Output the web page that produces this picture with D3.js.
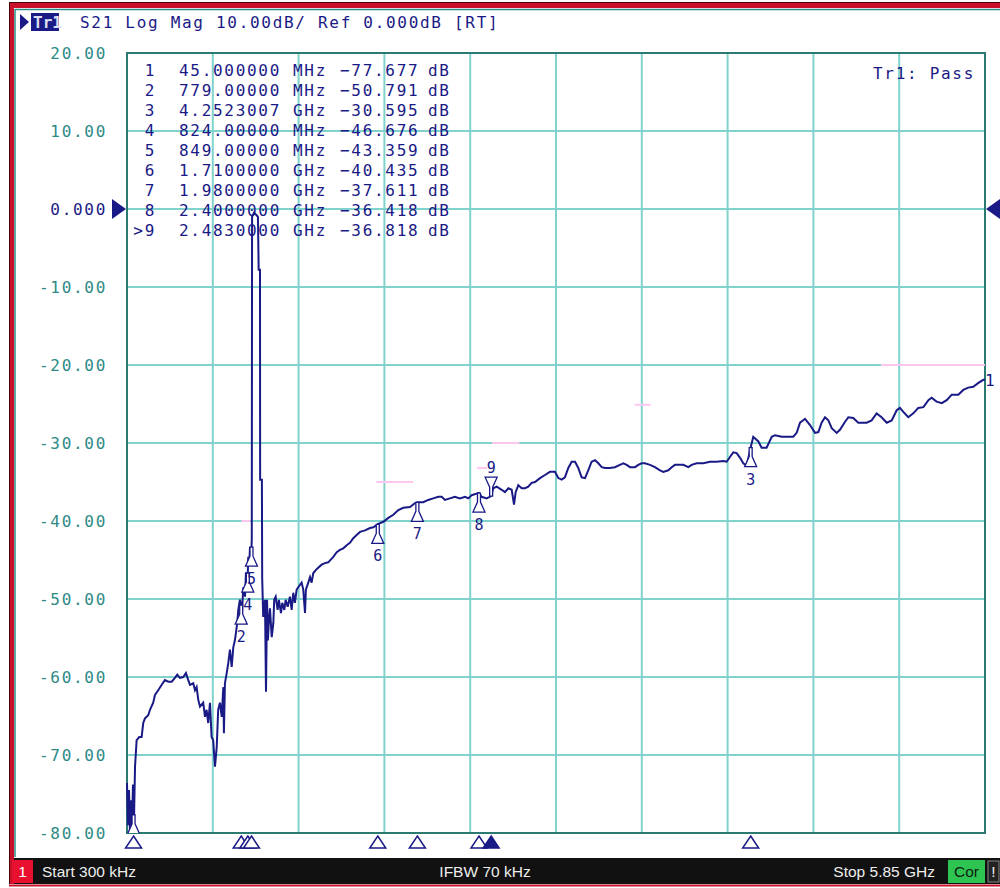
<!DOCTYPE html>
<html>
<head>
<meta charset="utf-8">
<script src="https://cdn.jsdelivr.net/npm/d3@7"></script>
<style>
  body { margin: 0; background: #fff; }
  .mono { font-family: "DejaVu Sans Mono", monospace; font-size: 16px; letter-spacing: 1.7px; }
  .sans { font-family: "Liberation Sans", Arial, sans-serif; font-size: 15.5px; }
</style>
</head>
<body>
<div id="chart"></div>
<script>
// balayage: 300 kHz -> 5.85 GHz (en MHz), echelle 10 dB/div
var startMHz = 0.3;
var stopMHz = 5850;
var yTicks = [20, 10, 0, -10, -20, -30, -40, -50, -60, -70, -80];
var yTickLabels = ["20.00", "10.00", "0.000", "-10.00", "-20.00", "-30.00", "-40.00", "-50.00", "-60.00", "-70.00", "-80.00"];

// trace S21 (MHz, dB)
var freqMHz = [0.3, 7, 14, 20, 27, 34, 41, 45, 48, 55, 66, 84, 100, 111, 123, 145, 157, 179, 191, 213,
  237, 259, 282, 305, 327, 343, 361, 384, 402, 418, 430, 452, 464, 475, 486, 498, 520, 532, 543, 554,
  566, 577, 588, 600, 612, 622, 634, 646, 657, 661, 668, 680, 691, 702, 714, 725, 736, 752, 759, 770,
  779, 784, 793, 805, 811, 824, 827, 834, 839, 845, 849, 851, 853, 866, 884, 893, 898, 907, 908, 920,
  922, 929, 941, 948, 955, 961, 968, 975, 987, 998, 1004, 1014, 1027, 1036, 1050, 1059, 1073, 1082, 1096, 1111,
  1123, 1134, 1145, 1157, 1168, 1191, 1202, 1214, 1220, 1236, 1248, 1259, 1270, 1287, 1304, 1327, 1350, 1372, 1407, 1430,
  1452, 1475, 1498, 1520, 1543, 1566, 1589, 1623, 1657, 1680, 1710, 1748, 1782, 1816, 1850, 1884, 1930, 1964, 1980, 2020,
  2054, 2088, 2123, 2146, 2168, 2202, 2236, 2270, 2305, 2327, 2350, 2400, 2418, 2452, 2483, 2497, 2521, 2555, 2577, 2600,
  2623, 2639, 2650, 2668, 2691, 2714, 2736, 2759, 2782, 2816, 2850, 2884, 2918, 2941, 2964, 2986, 3009, 3032, 3055, 3077,
  3100, 3123, 3145, 3168, 3191, 3214, 3237, 3259, 3293, 3327, 3361, 3384, 3407, 3430, 3464, 3486, 3509, 3532, 3566, 3600,
  3634, 3657, 3691, 3714, 3736, 3793, 3827, 3850, 3884, 3929, 3975, 4020, 4066, 4089, 4111, 4134, 4157, 4180, 4202, 4225,
  4252, 4270, 4305, 4327, 4361, 4396, 4418, 4464, 4543, 4566, 4589, 4623, 4657, 4691, 4714, 4736, 4759, 4782, 4805, 4839,
  4861, 4895, 4918, 4952, 4986, 5043, 5077, 5111, 5145, 5180, 5214, 5248, 5270, 5293, 5327, 5361, 5395, 5430, 5464, 5486,
  5520, 5555, 5589, 5623, 5668, 5702, 5736, 5770, 5805, 5839, 5850];
var magDb = [-73.6, -79.0, -74.5, -79.6, -75.8, -79.4, -73.8, -77.7, -78.3, -71.5, -68.1, -67.7, -67.7, -65.9, -65.3, -64.9, -64.2, -63.3, -62.3, -61.7,
  -61.0, -60.4, -60.6, -60.6, -60.1, -59.7, -60.1, -60.0, -59.5, -60.4, -61.0, -60.8, -61.7, -61.3, -62.9, -63.8, -63.3, -65.1, -64.2, -65.9,
  -63.3, -67.7, -68.1, -71.5, -69.0, -64.2, -63.3, -65.1, -61.3, -67.2, -60.8, -59.5, -58.2, -56.5, -58.7, -56.2, -55.3, -53.1, -51.4, -50.1,
  -50.8, -51.8, -48.5, -49.7, -46.7, -46.7, -44.6, -45.4, -43.3, -44.1, -43.4, -42.4, -1.0, -0.5, -0.8, -1.0, -7.8, -7.8, -34.7, -34.7,
  -47.3, -52.3, -50.1, -61.9, -50.1, -55.3, -52.7, -51.2, -54.9, -53.1, -50.1, -49.7, -51.4, -50.1, -51.8, -50.5, -51.4, -50.1, -51.0, -49.7,
  -51.4, -49.2, -50.5, -48.8, -48.5, -47.9, -48.8, -51.8, -48.8, -47.9, -47.2, -47.9, -46.7, -46.3, -46.0, -45.6, -45.4, -45.3, -44.6, -44.0,
  -43.7, -43.5, -43.1, -42.8, -42.2, -41.8, -41.4, -41.2, -40.9, -40.8, -40.4, -40.1, -39.6, -39.2, -38.6, -38.3, -38.2, -37.7, -37.6, -37.6,
  -37.3, -37.1, -36.9, -36.9, -37.3, -37.1, -36.9, -37.1, -36.9, -37.1, -36.7, -36.4, -36.9, -37.1, -36.8, -35.8, -35.6, -36.0, -36.3, -35.8,
  -36.0, -37.9, -36.3, -35.4, -35.8, -35.8, -35.6, -35.1, -35.0, -34.5, -34.1, -33.7, -33.7, -34.5, -34.7, -34.4, -33.2, -32.4, -32.4, -33.2,
  -34.4, -34.5, -33.5, -32.4, -32.2, -32.6, -33.1, -33.2, -33.2, -33.1, -32.8, -32.6, -32.8, -33.1, -33.1, -32.8, -32.6, -32.6, -32.8, -33.1,
  -33.5, -33.7, -33.5, -33.1, -32.8, -32.8, -33.1, -32.8, -32.6, -32.6, -32.4, -32.4, -32.3, -32.4, -31.8, -31.2, -31.3, -31.9, -32.6, -32.9,
  -30.6, -29.2, -29.8, -30.6, -30.6, -29.2, -29.0, -29.2, -29.2, -28.7, -27.4, -26.9, -27.7, -28.7, -28.6, -27.4, -26.7, -27.1, -28.1, -28.7,
  -28.3, -27.3, -26.7, -26.8, -27.4, -27.4, -27.1, -26.2, -26.7, -27.4, -27.1, -25.8, -25.5, -26.0, -26.7, -26.2, -25.5, -25.4, -24.5, -24.2,
  -24.7, -24.9, -24.5, -23.8, -23.8, -23.2, -22.9, -22.8, -22.3, -21.9, -21.9];

// marqueurs
var markerNum = ["1", "2", "3", "4", "5", "6", "7", "8", "9"];
var markerMHz = [45, 779, 4252.3007, 824, 849, 1710, 1980, 2400, 2483];
var markerDb = [-77.677, -50.791, -30.595, -46.676, -43.359, -40.435, -37.611, -36.418, -36.818];
var markerFreqText = ["45.000000", "779.00000", "4.2523007", "824.00000", "849.00000", "1.7100000", "1.9800000", "2.4000000", "2.4830000"];
var markerUnit = ["MHz", "MHz", "GHz", "MHz", "MHz", "GHz", "GHz", "GHz", "GHz"];
var activeMarker = 8; // index du marqueur 9

// segments de la ligne limite (MHz debut, MHz fin, dB)
var limitStart = [780, 1700, 2386, 2490, 3460, 5140];
var limitStop = [840, 1950, 2455, 2675, 3570, 5850];
var limitDb = [-40, -35, -33.2, -30, -25.1, -20];

var W = 1000, H = 888;
var navy = "#1a1a86";
var teal = "#2e8a85";

var svg = d3.select("#chart").append("svg")
  .attr("width", W)
  .attr("height", H);

svg.append("rect").attr("width", W).attr("height", H).attr("fill", "#fff");

// cadre rouge de la fenetre
svg.append("rect").attr("x", 9).attr("y", 2).attr("width", W - 9).attr("height", 6).attr("fill", "#c8102a");
svg.append("rect").attr("x", 9).attr("y", 2).attr("width", 5).attr("height", H - 2).attr("fill", "#c8102a");
svg.append("line").attr("x1", 9.5).attr("x2", 9.5).attr("y1", 2).attr("y2", H).attr("stroke", "#4a0008");
svg.append("line").attr("x1", 9).attr("x2", W).attr("y1", 2.5).attr("y2", 2.5).attr("stroke", "#4a0008");
svg.append("line").attr("x1", 15).attr("x2", 15).attr("y1", 9).attr("y2", 857).attr("stroke", teal).attr("stroke-width", 1.5);
svg.append("line").attr("x1", 15).attr("x2", W).attr("y1", 9.5).attr("y2", 9.5).attr("stroke", teal).attr("stroke-width", 1.5);

// echelles
var x = d3.scaleLinear().domain([startMHz, stopMHz]).range([127, 985]);
var y = d3.scaleLinear().domain([-80, 20]).range([833, 53]);

// grille
var xGrid = d3.range(1, 10).map(function(i) { return startMHz + i * (stopMHz - startMHz) / 10; });
svg.append("g").selectAll("line").data(xGrid).enter().append("line")
  .attr("x1", function(d) { return x(d); })
  .attr("x2", function(d) { return x(d); })
  .attr("y1", y(20)).attr("y2", y(-80))
  .attr("stroke", "#7fd3cc").attr("stroke-width", 2);
svg.append("g").selectAll("line").data(yTicks.slice(1, -1)).enter().append("line")
  .attr("x1", x(startMHz)).attr("x2", x(stopMHz))
  .attr("y1", function(d) { return y(d); })
  .attr("y2", function(d) { return y(d); })
  .attr("stroke", "#7fd3cc").attr("stroke-width", 2);

// bord de la zone du graphique
svg.append("rect")
  .attr("x", x(startMHz)).attr("y", y(20))
  .attr("width", x(stopMHz) - x(startMHz)).attr("height", y(-80) - y(20))
  .attr("fill", "none").attr("stroke", "#2a7a72").attr("stroke-width", 2);

// etiquettes de l'axe Y
svg.append("g").selectAll("text").data(yTicks).enter().append("text")
  .attr("class", "mono")
  .attr("x", 107)
  .attr("y", function(d) { return y(d); })
  .attr("dy", "0.36em")
  .attr("text-anchor", "end")
  .attr("fill", function(d) { return d === 0 ? navy : teal; })
  .text(function(d, i) { return yTickLabels[i]; });

// triangles de reference (0 dB)
svg.append("path")
  .attr("d", "M" + 112 + "," + (y(0) - 10) + "L" + 126 + "," + y(0) + "L" + 112 + "," + (y(0) + 10) + "Z")
  .attr("fill", navy);
svg.append("path")
  .attr("d", "M" + 1000 + "," + (y(0) - 10) + "L" + 986 + "," + y(0) + "L" + 1000 + "," + (y(0) + 10) + "Z")
  .attr("fill", navy);

// en-tete
svg.append("path").attr("d", "M20,14L29,22L20,30Z").attr("fill", navy);
svg.append("rect").attr("x", 31).attr("y", 13).attr("width", 28).attr("height", 18).attr("fill", navy);
svg.append("text").attr("class", "mono").attr("x", 33).attr("y", 28)
  .attr("fill", "#dde0f4").style("font-weight", "bold").style("letter-spacing", "0px").text("Tr1");
svg.append("text").attr("class", "mono").attr("x", 80).attr("y", 28)
  .attr("fill", navy).text("S21 Log Mag 10.00dB/ Ref 0.000dB [RT]");

svg.append("text").attr("class", "mono").attr("x", 975).attr("y", 79)
  .attr("text-anchor", "end").attr("fill", navy).text("Tr1: Pass");

// tableau des marqueurs
var rows = svg.append("g").selectAll("g").data(markerNum).enter().append("g")
  .attr("transform", function(d, i) { return "translate(0," + (76 + i * 19.95) + ")"; });
rows.append("text").attr("class", "mono").attr("x", 156).attr("text-anchor", "end").attr("fill", navy)
  .text(function(d, i) { return (i === activeMarker ? ">" : "") + d; });
rows.append("text").attr("class", "mono").attr("x", 179).attr("fill", navy)
  .text(function(d, i) { return markerFreqText[i]; });
rows.append("text").attr("class", "mono").attr("x", 293).attr("fill", navy)
  .text(function(d, i) { return markerUnit[i]; });
rows.append("text").attr("class", "mono").attr("x", 340).attr("fill", navy)
  .text(function(d, i) { return d3.format(".3f")(markerDb[i]); });
rows.append("text").attr("class", "mono").attr("x", 428).attr("fill", navy)
  .text("dB");

// lignes limites
svg.append("g").selectAll("line").data(limitDb).enter().append("line")
  .attr("x1", function(d, i) { return x(limitStart[i]); })
  .attr("x2", function(d, i) { return x(limitStop[i]); })
  .attr("y1", function(d) { return y(d); })
  .attr("y2", function(d) { return y(d); })
  .attr("stroke", "#ffc6f0").attr("stroke-width", 2);

// trace
var traceData = freqMHz.map(function(f, i) { return [f, magDb[i]]; });
var line = d3.line()
  .x(function(d) { return x(d[0]); })
  .y(function(d) { return y(d[1]); });
svg.append("path")
  .datum(traceData)
  .attr("d", line)
  .attr("fill", "none")
  .attr("stroke", navy)
  .attr("stroke-width", 2)
  .attr("stroke-linejoin", "miter");

// numero de trace a droite
svg.append("text").attr("class", "mono").attr("x", 985).attr("y", y(magDb[magDb.length - 1]) + 6)
  .attr("fill", navy).style("letter-spacing", "0px").text("1");

// symboles des marqueurs sur la trace
svg.append("clipPath").attr("id", "plotclip").append("rect")
  .attr("x", 127).attr("y", 53).attr("width", 858).attr("height", 780);
var mk = svg.append("g").attr("clip-path", "url(#plotclip)");
var upShape = "M-1.5,0L1.5,0L1.5,9L6,19L-6,19L-1.5,9Z";
var downShape = "M-1.5,0L1.5,0L1.5,-9L6,-19L-6,-19L-1.5,-9Z";
markerNum.forEach(function(n, i) {
  var px = x(markerMHz[i]), py = y(markerDb[i]);
  var active = i === activeMarker;
  mk.append("path")
    .attr("transform", "translate(" + px + "," + py + ")")
    .attr("d", active ? downShape : upShape)
    .attr("fill", "#fff").attr("stroke", navy).attr("stroke-width", 1.3);
  mk.append("text").attr("class", "mono")
    .attr("x", px).attr("y", active ? py - 23 : py + 37)
    .attr("text-anchor", "middle").attr("fill", navy)
    .style("letter-spacing", "0px").style("font-size", "15px")
    .text(n);
});

// triangles des marqueurs sous l'axe
markerNum.forEach(function(n, i) {
  var px = x(markerMHz[i]);
  svg.append("path")
    .attr("d", "M" + px + ",836L" + (px + 8) + ",848L" + (px - 8) + ",848Z")
    .attr("fill", i === activeMarker ? navy : "#fff")
    .attr("stroke", navy).attr("stroke-width", 1.5);
});

// barre d'etat en bas
svg.append("rect").attr("x", 14).attr("y", 858).attr("width", W - 14).attr("height", 26).attr("fill", "#111");
svg.append("rect").attr("x", 9).attr("y", 884).attr("width", W - 9).attr("height", 4).attr("fill", "#fff");
svg.append("line").attr("x1", 9).attr("x2", W).attr("y1", 885.5).attr("y2", 885.5).attr("stroke", "#c8102a").attr("stroke-width", 2);
svg.append("rect").attr("x", 12).attr("y", 860).attr("width", 21).attr("height", 23).attr("fill", "#e8102e");
svg.append("text").attr("class", "sans").attr("x", 22.5).attr("y", 877).attr("text-anchor", "middle")
  .attr("fill", "#fff").text("1");
svg.append("text").attr("class", "sans").attr("x", 42).attr("y", 877).attr("fill", "#eee").text("Start 300 kHz");
svg.append("text").attr("class", "sans").attr("x", 485).attr("y", 877).attr("text-anchor", "middle")
  .attr("fill", "#eee").text("IFBW 70 kHz");
svg.append("text").attr("class", "sans").attr("x", 935).attr("y", 877).attr("text-anchor", "end")
  .attr("fill", "#eee").text("Stop 5.85 GHz");
svg.append("rect").attr("x", 948).attr("y", 860).attr("width", 37).attr("height", 23).attr("fill", "#2ec452");
svg.append("text").attr("class", "sans").attr("x", 966.5).attr("y", 877).attr("text-anchor", "middle")
  .attr("fill", "#102010").text("Cor");
svg.append("rect").attr("x", 988).attr("y", 861).attr("width", 11).attr("height", 21)
  .attr("fill", "#222").attr("stroke", "#888");
svg.append("text").attr("class", "sans").attr("x", 993.5).attr("y", 877).attr("text-anchor", "middle")
  .attr("fill", "#eee").text("!");
</script>
</body>
</html>
